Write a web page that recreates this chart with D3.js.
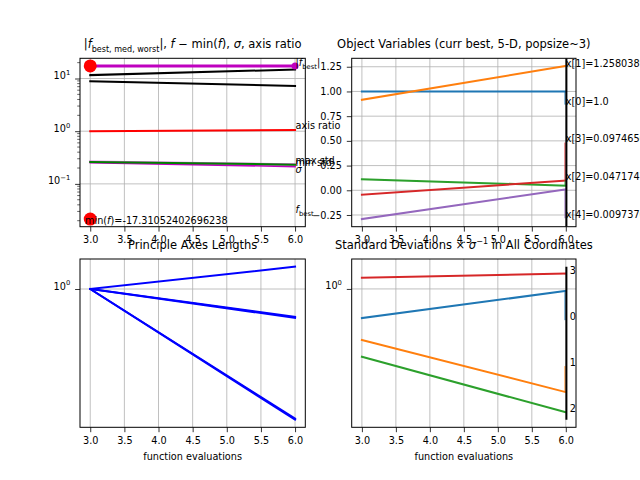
<!DOCTYPE html>
<html>
<head>
<meta charset="utf-8">
<script src="https://cdn.jsdelivr.net/npm/d3@7"></script>
<style>
  body { margin: 0; background: #fff; }
  svg text { font-family: "DejaVu Sans", sans-serif; fill: #000; }
  .grid line { stroke: #b0b0b0; stroke-width: 0.8; }
  .axis line { stroke: #000; stroke-width: 0.8; }
  .axis text { font-size: 9.7px; }
  .line { fill: none; stroke-linecap: square; }
</style>
</head>
<body>
<div id="chart"></div>
<script>
// ---- data ----
var evals = [3, 6];
var xTicks = [3.0, 3.5, 4.0, 4.5, 5.0, 5.5, 6.0];

// f-values, sigma, axis ratio (top left)
var fBest = [17.31, 17.31];
var fWorst = [11.6, 14.8];
var fMedian = [8.9, 7.24];
var axisRatio = [1.0, 1.05];
var maxStd = [0.264, 0.233];
var sigmaVals = [0.26, 0.232];
var minStd = [0.252, 0.213];
var fMinusMinFirst = 0.0215;
var fBestLabelAt = 0.0274;
var minF = "-17.31052402696238";

// object variables (top right)
var xVars = [
  [1.0, 1.0],
  [0.916, 1.2580389],
  [0.111, 0.0471747],
  [-0.044, 0.0974650],
  [-0.291, 0.0097370]
];
var xVarLabels = ["x[0]=1.0", "x[1]=1.25803892", "x[2]=0.04717473",
                  "x[3]=0.09746502", "x[4]=0.00973702"];
var trTicks = [-0.25, 0, 0.25, 0.5, 0.75, 1.0, 1.25];

// principal axes lengths (bottom left)
var axesLengths = [
  [1.0, 1.126],
  [1.0, 0.863],
  [1.0, 0.858],
  [1.0, 0.5],
  [1.0, 0.503]
];

// standard deviations x sigma^-1 (bottom right)
var stdDevs = [
  [0.816, 0.986],
  [0.700, 0.486],
  [0.622, 0.422],
  [1.082, 1.113]
];

var tab10 = ["#1f77b4", "#ff7f0e", "#2ca02c", "#d62728", "#9467bd"];
var titleSize = 11.5;

// ---- helpers ----
function padLin(ext) { var m = 0.05 * (ext[1] - ext[0]); return [ext[0] - m, ext[1] + m]; }
function padLog(ext) {
  var a = Math.log10(ext[0]), b = Math.log10(ext[1]), m = 0.05 * (b - a);
  return [Math.pow(10, a - m), Math.pow(10, b + m)];
}
function zip(vals) { return evals.map(function(e, i) { return [e, vals[i]]; }); }

function rich(text, parts, size) {
  var shift = 0;
  parts.forEach(function(p) {
    var want = p.sub ? size * 0.28 : p.sup ? -size * 0.42 : 0;
    var ts = text.append("tspan").text(p.t)
      .attr("dy", want - shift)
      .style("font-size", (p.sub || p.sup ? size * 0.7 : size) + "px");
    if (p.i) ts.style("font-style", "italic");
    shift = want;
  });
}
function supMinus(n) { return (n < 0 ? "\u2212" : "") + Math.abs(n); }

var svg = d3.select("#chart").append("svg")
    .attr("width", 640).attr("height", 480);

var xDomain = padLin(d3.extent(evals));

function panel(box, y, yTicks, yFormat, opts) {
  opts = opts || {};
  var g = svg.append("g")
      .attr("transform", "translate(" + box.left + "," + box.top + ")");
  var x = d3.scaleLinear().domain(xDomain).range([0, box.width]);
  y.range([box.height, 0]);

  var grid = g.append("g").attr("class", "grid");
  grid.selectAll("line.gx").data(xTicks).enter().append("line")
      .attr("class", "gx")
      .attr("x1", x).attr("x2", x).attr("y1", 0).attr("y2", box.height);
  grid.selectAll("line.gy").data(yTicks).enter().append("line")
      .attr("class", "gy")
      .attr("y1", y).attr("y2", y).attr("x1", 0).attr("x2", box.width);

  g.append("g").attr("class", "x axis")
      .attr("transform", "translate(0," + box.height + ")")
      .call(d3.axisBottom(x).tickValues(xTicks).tickFormat(d3.format(".1f"))
        .tickSize(4.9).tickPadding(4.9).tickSizeOuter(0));

  var ya = g.append("g").attr("class", "y axis")
      .call(d3.axisLeft(y).tickValues(yTicks).tickFormat(opts.log ? function() { return ""; } : yFormat)
        .tickSize(4.9).tickPadding(4.9).tickSizeOuter(0));
  if (opts.log) {
    ya.selectAll(".tick text").each(function(d) {
      rich(d3.select(this), [{t: "10"}, {t: supMinus(Math.round(Math.log10(d))), sup: true}], 9.7);
    });
  }
  if (opts.minor) {
    g.append("g").attr("class", "axis").selectAll("line").data(opts.minor).enter().append("line")
        .attr("x1", -2.8).attr("x2", 0).attr("y1", y).attr("y2", y)
        .style("stroke-width", 0.6);
  }
  g.selectAll(".domain").remove();

  g.append("clipPath").attr("id", opts.id)
    .append("rect").attr("width", box.width).attr("height", box.height);
  var content = g.append("g").attr("clip-path", "url(#" + opts.id + ")");
  var free = g.append("g");

  g.append("rect").attr("width", box.width).attr("height", box.height)
      .style("fill", "none").style("stroke", "#000").style("stroke-width", 1);

  if (opts.title) {
    var t = g.append("text").attr("x", box.width / 2).attr("y", -10)
        .style("text-anchor", "middle").style("font-size", titleSize + "px");
    rich(t, opts.title, titleSize);
  }
  if (opts.xlabel) {
    g.append("text").attr("x", box.width / 2).attr("y", box.height + 33)
        .style("text-anchor", "middle").style("font-size", "9.7px")
        .text(opts.xlabel);
  }
  return { g: g, content: content, free: free, x: x, y: y, box: box };
}

function drawLine(p, vals, color, width, layer) {
  var line = d3.line().x(function(d) { return p.x(d[0]); }).y(function(d) { return p.y(d[1]); });
  (layer || p.content).append("path").datum(zip(vals))
      .attr("class", "line").attr("d", line)
      .style("stroke", color).style("stroke-width", width);
}

// ---- top left: f values ----
var tlVals = [].concat(fBest, fWorst, fMedian, axisRatio, maxStd, minStd, sigmaVals, [fMinusMinFirst]);
var tlY = d3.scaleLog().domain(padLog(d3.extent(tlVals)));
var tlMinor = [];
[-2, -1, 0, 1].forEach(function(e) {
  for (var k = 2; k < 10; k++) tlMinor.push(k * Math.pow(10, e));
});
tlMinor = tlMinor.filter(function(v) { var d = tlY.domain(); return v > d[0] && v < d[1]; });

var tl = panel({left: 80, top: 58.3, width: 225.3, height: 168.4}, tlY, [0.1, 1, 10], null, {
  id: "c-tl", log: true, minor: tlMinor,
  title: [{t: "|"}, {t: "f", i: true}, {t: "best, med, worst", sub: true}, {t: "|, "},
          {t: "f", i: true}, {t: " \u2212 min("}, {t: "f", i: true}, {t: "), "},
          {t: "\u03c3", i: true}, {t: ", axis ratio"}]
});

drawLine(tl, fWorst, "#000", 2);
drawLine(tl, fMedian, "#000", 2);
drawLine(tl, axisRatio, "#ff0000", 2);
drawLine(tl, maxStd, "#dd66dd", 2.5);
drawLine(tl, minStd, "#bf00bf", 1.6);
drawLine(tl, sigmaVals, "#008000", 2);
drawLine(tl, fBest, "#bf00bf", 3);

tl.free.append("circle").attr("cx", tl.x(evals[1])).attr("cy", tl.y(fBest[1]))
    .attr("r", 3.5).style("fill", "#bf00bf");
tl.free.selectAll("circle.first").data([fBest[0], fMinusMinFirst]).enter().append("circle")
    .attr("class", "first")
    .attr("cx", tl.x(evals[0])).attr("cy", function(d) { return tl.y(d); })
    .attr("r", 6.5).style("fill", "#ff0000");

var tlx = tl.x(evals[1]) + 0.5;
var tlLabels = [
  {v: fBest[1], dy: 0, parts: [{t: "|"}, {t: "f", i: true}, {t: "best", sub: true}, {t: "|"}]},
  {v: axisRatio[1], dy: -1, parts: [{t: "axis ratio"}]},
  {v: maxStd[1], dy: -1, parts: [{t: "max std"}]},
  {v: minStd[1], dy: -1, parts: [{t: "min std"}]},
  {v: sigmaVals[1], dy: 8, parts: [{t: "\u03c3", i: true}]},
  {v: fBestLabelAt, dy: 0, parts: [{t: "f", i: true}, {t: "best", sub: true}]}
];
tlLabels.forEach(function(l) {
  var t = tl.g.append("text").attr("x", tlx).attr("y", tl.y(l.v) + l.dy).style("font-size", "9.7px");
  rich(t, l.parts, 9.7);
});
tl.g.append("text").attr("x", 5).attr("y", tl.box.height - 2.5).style("font-size", "9.7px")
  .call(function(t) { rich(t, [{t: "min("}, {t: "f", i: true}, {t: ")=" + minF}], 9.7); });

// ---- top right: object variables ----
var trAll = [].concat.apply([], xVars);
var trY = d3.scaleLinear().domain(padLin(d3.extent(trAll)));
var tr = panel({left: 351.7, top: 58.3, width: 224.3, height: 168.4}, trY, trTicks, d3.format(".2f"), {
  id: "c-tr",
  title: [{t: "Object Variables (curr best, 5-D, popsize~3)"}]
});
function endLabels(p, series, texts, colors, top, bottom, dx, fontSize) {
  var order = d3.range(series.length).sort(function(a, b) { return series[b][1] - series[a][1]; });
  var inset = 0.05 * (bottom - top);
  var pos = d3.scaleLinear().domain([0, order.length - 1]).range([top + inset, bottom - inset]);
  var xe = p.x(evals[1]);
  order.forEach(function(k, r) {
    p.content.append("line")
        .attr("x1", xe - 0.8).attr("x2", xe - 0.8)
        .attr("y1", p.y(series[k][1])).attr("y2", pos(r))
        .style("stroke", colors[k]).style("stroke-width", 1);
    p.g.append("text").attr("x", xe + dx).attr("y", pos(r))
        .style("font-size", fontSize + "px").text(texts[k]);
  });
  p.content.append("line")
      .attr("x1", xe + 0.6).attr("x2", xe + 0.6).attr("y1", top).attr("y2", bottom)
      .style("stroke", "#000").style("stroke-width", 2);
}
xVars.forEach(function(s, k) { drawLine(tr, s, tab10[k], 2); });
endLabels(tr, xVars, xVarLabels, tab10, 0, tr.box.height, 0, 9.7);

// ---- bottom left: principal axes ----
var blY = d3.scaleLog().domain(padLog(d3.extent([].concat.apply([], axesLengths))));
var bl = panel({left: 80, top: 259, width: 225.3, height: 168.3}, blY, [1], null, {
  id: "c-bl", log: true, xlabel: "function evaluations",
  title: [{t: "Principle Axes Lengths"}]
});
axesLengths.forEach(function(s) { drawLine(bl, s, "#0000ff", 2); });

// ---- bottom right: standard deviations ----
var stdExt = d3.extent([].concat.apply([], stdDevs));
var barExt = [stdExt[0] * 0.95, stdExt[1] * 1.05];
var brY = d3.scaleLog().domain(padLog(barExt));
var br = panel({left: 351.7, top: 259, width: 224.3, height: 168.3}, brY, [1], null, {
  id: "c-br", log: true, xlabel: "function evaluations",
  title: [{t: "Standard Deviations \u00d7 "}, {t: "\u03c3", i: true}, {t: "\u22121", sup: true},
          {t: " in All Coordinates"}]
});
stdDevs.forEach(function(s, k) { drawLine(br, s, tab10[k], 2); });
endLabels(br, stdDevs, stdDevs.map(function(d, k) { return String(k); }), tab10,
          br.y(barExt[1]), br.y(barExt[0]), 4, 9.7);
</script>
</body>
</html>
